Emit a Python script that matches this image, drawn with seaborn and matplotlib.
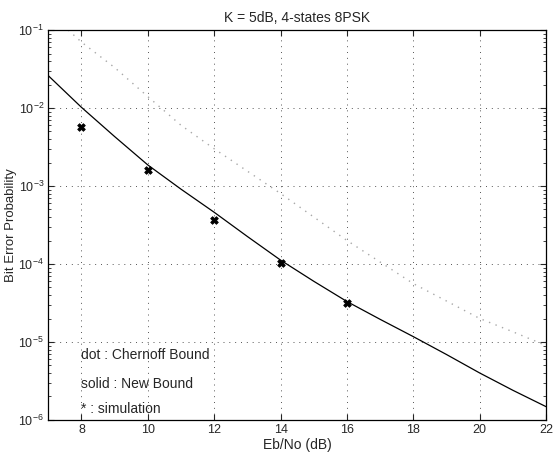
import matplotlib
matplotlib.use("Agg")
import numpy as np
import pandas as pd
import matplotlib.pyplot as plt
import seaborn as sns

# values
ebno_new = [7, 8, 9, 10, 11, 12, 13, 14, 15, 16, 17, 18, 19, 20, 21, 22]
ber_new = [2.6e-2, 1.02e-2, 4.3e-3, 1.86e-3, 9.1e-4, 4.6e-4, 2.25e-4, 1.12e-4,
           6.0e-5, 3.3e-5, 1.95e-5, 1.17e-5, 6.9e-6, 4.0e-6, 2.4e-6, 1.48e-6]

ebno_chernoff = [7.6, 8, 9, 10, 11, 12, 14, 16, 18, 20, 21, 22]
ber_chernoff = [1.0e-1, 7.0e-2, 3.3e-2, 1.4e-2, 6.0e-3, 3.0e-3, 8.0e-4,
                2.0e-4, 5.6e-5, 2.0e-5, 1.35e-5, 9.0e-6]

ebno_sim = [8, 10, 12, 14, 16]
ber_sim = [5.7e-3, 1.6e-3, 3.66e-4, 1.04e-4, 3.2e-5]

x_ticks = [8, 10, 12, 14, 16, 18, 20, 22]
notes = ["dot : Chernoff Bound", "solid : New Bound", "* : simulation"]
note_y = [6.8e-6, 2.9e-6, 1.4e-6]

sns.set_theme(style="ticks")
plt.rcParams["font.family"] = ["Liberation Sans", "DejaVu Sans"]
plt.rcParams["mathtext.fontset"] = "custom"
plt.rcParams["mathtext.rm"] = "Liberation Sans"
plt.rcParams["mathtext.it"] = "Liberation Sans"
plt.rcParams["mathtext.bf"] = "Liberation Sans"

fig = plt.figure(figsize=(5.55, 4.55), dpi=100)
ax = fig.add_axes([0.087, 0.077, 0.897, 0.857])

df_new = pd.DataFrame({"ebno": ebno_new, "ber": ber_new})
df_ch = pd.DataFrame({"ebno": ebno_chernoff, "ber": ber_chernoff})
df_sim = pd.DataFrame({"ebno": ebno_sim, "ber": ber_sim})

sns.lineplot(data=df_ch, x="ebno", y="ber", ax=ax, color="#a8a8a8",
             linestyle=(0, (1, 4)), linewidth=1.0)
sns.lineplot(data=df_new, x="ebno", y="ber", ax=ax, color="black", linewidth=0.9)
sns.scatterplot(data=df_sim, x="ebno", y="ber", ax=ax, color="black",
                marker="X", s=30, edgecolor="black", linewidth=0.6, zorder=5)

ax.set_yscale("log")
ax.set_xlim(7, 22)
ax.set_ylim(1e-6, 1e-1)
ax.set_xticks(x_ticks)
ax.grid(True, which="major", color="#555555", linestyle=(0, (1, 5)), linewidth=0.7)

ax.tick_params(which="both", direction="in", top=True, right=True, labelsize=9, pad=3)
ax.tick_params(which="major", length=4, width=0.8)
ax.tick_params(which="minor", length=2, width=0.6)
for s in ax.spines.values():
    s.set_linewidth(0.9)
    s.set_color("black")

for txt, y in zip(notes, note_y):
    ax.text(8, y, txt, fontsize=10, ha="left", va="center")

ax.set_title("K = 5dB, 4-states 8PSK", fontsize=10, pad=6)
ax.set_xlabel("Eb/No (dB)", fontsize=10, labelpad=1)
ax.set_ylabel("Bit Error Probability", fontsize=9.5, labelpad=1)

fig.savefig("out.png", dpi=100)
